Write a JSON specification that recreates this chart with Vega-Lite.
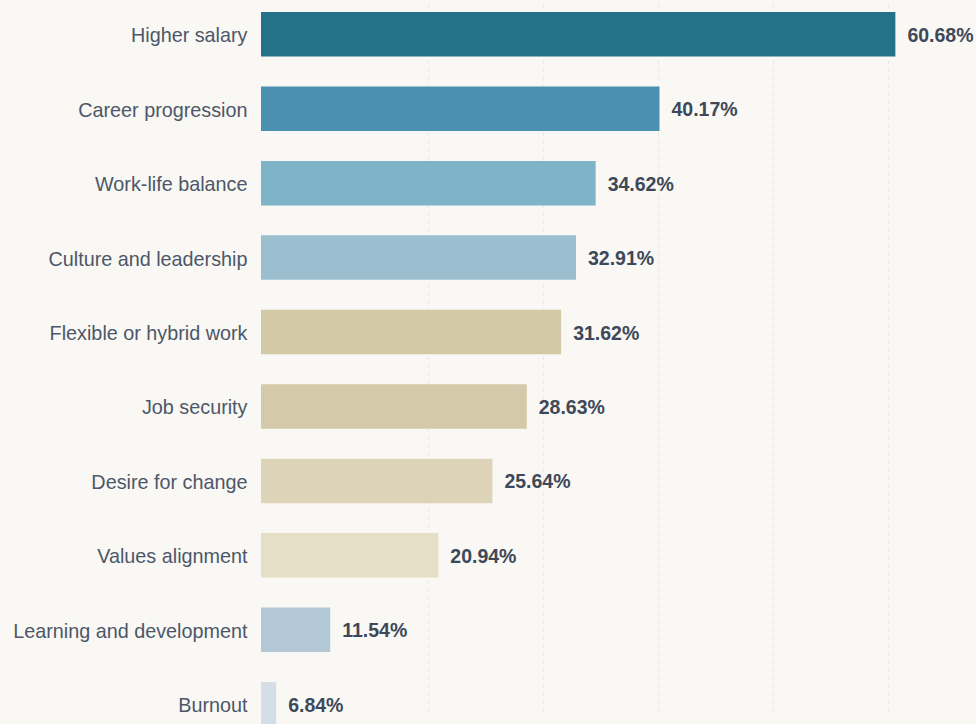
{
  "$schema": "https://vega.github.io/schema/vega-lite/v6.json",
  "width": 715,
  "height": 724,
  "autosize": {"type": "none"},
  "padding": {"left": 261, "top": 0, "right": 0, "bottom": 0},
  "background": "#f9f8f5",
  "config": {"view": {"stroke": null}, "font": "Liberation Sans"},
  "data": {
    "values": [
      {"reason": "Higher salary", "pct": 0.6068},
      {"reason": "Career progression", "pct": 0.4017},
      {"reason": "Work-life balance", "pct": 0.3462},
      {"reason": "Culture and leadership", "pct": 0.3291},
      {"reason": "Flexible or hybrid work", "pct": 0.3162},
      {"reason": "Job security", "pct": 0.2863},
      {"reason": "Desire for change", "pct": 0.2564},
      {"reason": "Values alignment", "pct": 0.2094},
      {"reason": "Learning and development", "pct": 0.1154},
      {"reason": "Burnout", "pct": 0.0684}
    ]
  },
  "encoding": {
    "y": {
      "field": "reason",
      "type": "nominal",
      "sort": null,
      "scale": {"range": [12, 726.5], "paddingInner": 0.402, "paddingOuter": 0},
      "axis": {
        "title": null,
        "domain": false,
        "ticks": false,
        "tickSize": 0,
        "labelPadding": 14,
        "labelOffset": 2,
        "labelFontSize": 19.8,
        "labelColor": "#4d5768",
        "labelFont": "Liberation Sans",
        "labelLimit": 400
      }
    },
    "x": {
      "field": "pct",
      "type": "quantitative",
      "scale": {"domain": [0.05522, 0.6769], "clamp": true, "nice": false, "zero": false},
      "axis": {
        "title": null,
        "labels": false,
        "domain": false,
        "ticks": false,
        "grid": true,
        "gridColor": "#ebe9e4",
        "gridDash": [4, 4],
        "gridWidth": 1,
        "values": [0.2, 0.3, 0.4, 0.5, 0.6]
      }
    }
  },
  "layer": [
    {
      "mark": {"type": "bar"},
      "encoding": {
        "color": {
          "field": "reason",
          "type": "nominal",
          "legend": null,
          "scale": {
            "domain": ["Higher salary", "Career progression", "Work-life balance", "Culture and leadership", "Flexible or hybrid work", "Job security", "Desire for change", "Values alignment", "Learning and development", "Burnout"],
            "range": ["#26718a", "#4a90b0", "#7fb3c8", "#9bbfcf", "#d4c9a5", "#d4caa9", "#ddd3b9", "#e6dfc8", "#b2c8d6", "#d3dee6"]
          }
        }
      }
    },
    {
      "mark": {"type": "text", "align": "left", "baseline": "middle", "dx": 12, "dy": 1.5, "fontWeight": "bold", "fontSize": 19.5, "color": "#3e4858", "font": "Liberation Sans"},
      "encoding": {
        "text": {"field": "pct", "type": "quantitative", "format": ".2%"}
      }
    }
  ]
}
